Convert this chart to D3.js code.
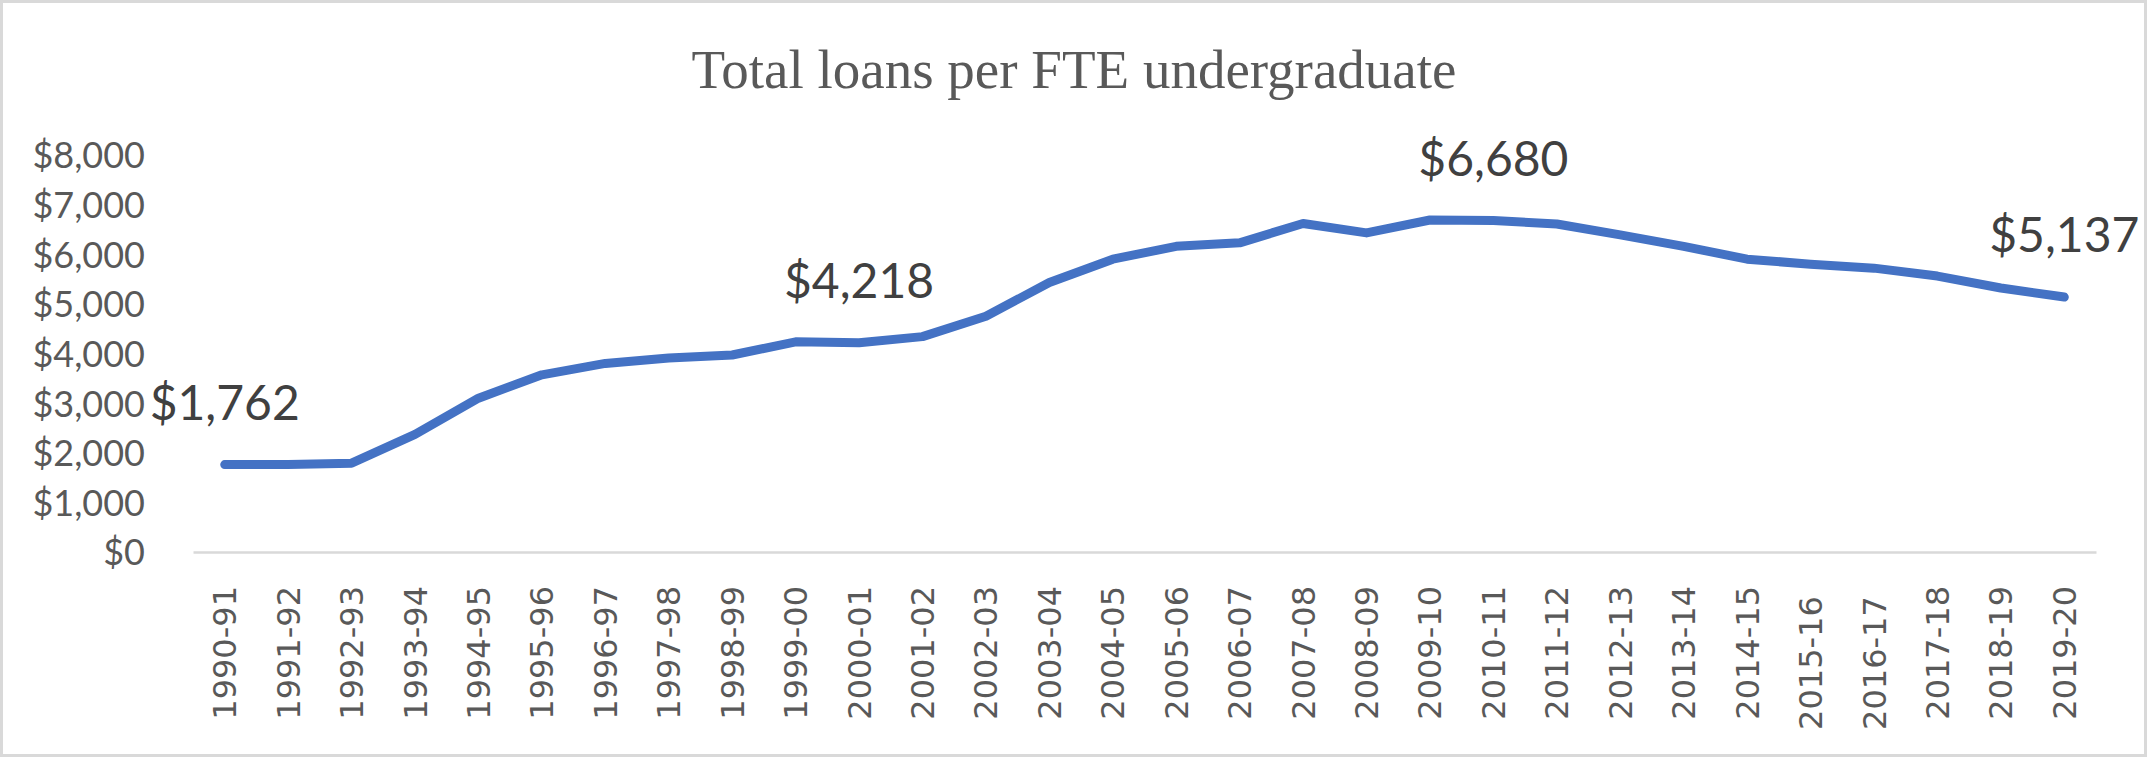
<!DOCTYPE html>
<html><head><meta charset="utf-8">
<script src="https://cdn.jsdelivr.net/npm/d3@7"></script>
<style>body{margin:0;background:#fff} svg{display:block} .xl{white-space:pre}</style>
</head><body>
<script>
const title = "Total loans per FTE undergraduate";
const categories = ["1990-91","1991-92","1992-93","1993-94","1994-95","1995-96","1996-97","1997-98","1998-99","1999-00",
  "2000-01","2001-02","2002-03","2003-04","2004-05","2005-06","2006-07","2007-08","2008-09","2009-10",
  "2010-11","2011-12","2012-13","2013-14","2014-15","2015-16 ","2016-17 ","2017-18","2018-19","2019-20"];
const values = [1762,1765,1790,2370,3100,3570,3800,3910,3970,4235,
  4218,4340,4750,5430,5900,6160,6230,6620,6430,6690,
  6680,6610,6390,6160,5900,5800,5720,5560,5320,5137];
const yTicks = [0,1000,2000,3000,4000,5000,6000,7000,8000];
const labeledCategories = ["1990-91","2000-01","2010-11","2019-20"];

const W = 2147, H = 757;
const svg = d3.select("body").append("svg").attr("width", W).attr("height", H);
svg.append("rect").attr("x",1.5).attr("y",1.5).attr("width",W-3).attr("height",H-3)
  .attr("fill","#fff").attr("stroke","#d9d9d9").attr("stroke-width",3);

const x = d3.scaleBand().domain(categories).range([193, 2096]);
const y = d3.scaleLinear().domain([0, 8000]).range([552, 155]);
const cx = c => x(c) + x.bandwidth()/2;

// title
svg.append("text").attr("x", 1074).attr("y", 88).attr("text-anchor","middle")
  .attr("font-family","'Liberation Serif','Times New Roman',serif").attr("font-size",55)
  .attr("fill","#595959").text(title);

// y axis labels
const yAxis = d3.axisLeft(y).tickValues(yTicks).tickSize(0).tickPadding(0)
  .tickFormat(d => "$" + d3.format(",")(d));
const gy = svg.append("g").attr("transform","translate(145,0)").call(yAxis);
gy.select(".domain").remove();
gy.selectAll("text").attr("font-family","Lato, sans-serif").attr("font-size",36)
  .attr("fill","#595959").attr("dy","0.36em");

// x axis
const xAxis = d3.axisBottom(x).tickSize(0).tickPadding(0);
const gx = svg.append("g").attr("transform","translate(0,552)").call(xAxis);
gx.select(".domain").attr("stroke","#d9d9d9").attr("stroke-width",2.5);
gx.selectAll(".tick text")
  .attr("class","xl")
  .attr("xml:space","preserve")
  .attr("font-family","'DejaVu Sans', Verdana, sans-serif").attr("font-size",32)
  .attr("fill","#595959").attr("text-anchor","end")
  .attr("transform","translate(0,34) rotate(-90)")
  .attr("x",0).attr("y",0).attr("dy","0.36em");

// line
const line = d3.line().x((d,i) => cx(categories[i])).y(d => y(d));
svg.append("path").datum(values).attr("d", line).attr("fill","none")
  .attr("stroke","#4472C4").attr("stroke-width",9)
  .attr("stroke-linecap","round").attr("stroke-linejoin","round");

// data labels
svg.append("g").selectAll("text").data(labeledCategories).join("text")
  .attr("x", c => cx(c)).attr("y", c => y(values[categories.indexOf(c)]) - 45)
  .attr("text-anchor","middle").attr("font-family","Lato, sans-serif").attr("font-size",48)
  .attr("fill","#404040")
  .text(c => "$" + d3.format(",")(values[categories.indexOf(c)]));
</script>
</body></html>
